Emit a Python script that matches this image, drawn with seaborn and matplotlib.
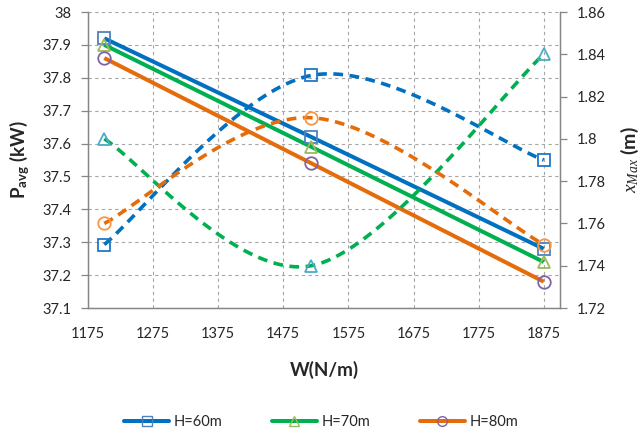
import numpy as np
import pandas as pd
import matplotlib
matplotlib.use("Agg")
import matplotlib.pyplot as plt
from matplotlib.lines import Line2D
import seaborn as sns

# ---------------- data ----------------
W = [1200, 1518, 1875]
heights = ["H=60m", "H=70m", "H=80m"]
p_avg_60 = [37.92, 37.62, 37.28]
p_avg_70 = [37.90, 37.59, 37.24]
p_avg_80 = [37.86, 37.54, 37.18]
xmax_60 = [1.75, 1.83, 1.79]
xmax_70 = [1.80, 1.74, 1.84]
xmax_80 = [1.76, 1.81, 1.75]

x_ticks = [1175, 1275, 1375, 1475, 1575, 1675, 1775, 1875]
left_ticks = [37.1, 37.2, 37.3, 37.4, 37.5, 37.6, 37.7, 37.8, 37.9, 38.0]
left_tick_labels = ["37.1", "37.2", "37.3", "37.4", "37.5", "37.6", "37.7", "37.8", "37.9", "38"]
right_ticks = [1.72, 1.74, 1.76, 1.78, 1.80, 1.82, 1.84, 1.86]
right_tick_labels = ["1.72", "1.74", "1.76", "1.78", "1.8", "1.82", "1.84", "1.86"]

# ---------------- style ----------------
sns.set_style("white")
plt.rcParams["font.family"] = ["Lato", "DejaVu Sans"]
plt.rcParams["mathtext.fontset"] = "custom"
plt.rcParams["mathtext.rm"] = "Lato:bold"
plt.rcParams["mathtext.bf"] = "Lato:bold"
plt.rcParams["mathtext.it"] = "Liberation Serif:italic"

line_cols = ["#0070C0", "#00B050", "#E46C0A"]
p_marker_cols = ["#4F81BD", "#9BBB59", "#8064A2"]
x_marker_cols = ["#1F78C8", "#4BACC6", "#F79646"]
markers = ["s", "^", "o"]
grid_col = "#A6A6A6"
spine_col = "#868686"


def smooth(xs, ys, n=60):
    """Excel-like smoothed line: cubic Bezier with Catmull-Rom control points."""
    xs = np.asarray(xs, float)
    ys = np.asarray(ys, float)
    P = np.column_stack([xs, ys])
    m = len(P)
    out = []
    t = np.linspace(0, 1, n)[:, None]
    for i in range(m - 1):
        p0 = P[i - 1] if i > 0 else P[i]
        p1 = P[i]
        p2 = P[i + 1]
        p3 = P[i + 2] if i + 2 < m else P[i + 1]
        c1 = p1 + (p2 - p0) / 6.0
        c2 = p2 - (p3 - p1) / 6.0
        seg = ((1 - t) ** 3) * p1 + 3 * ((1 - t) ** 2) * t * c1 + 3 * (1 - t) * t ** 2 * c2 + t ** 3 * p2
        out.append(seg if i == 0 else seg[1:])
    seg = np.vstack(out)
    return seg[:, 0], seg[:, 1]


fig = plt.figure(figsize=(6.42, 4.33), dpi=100)
ax = fig.add_axes([88 / 642, 1 - 308 / 433, 472 / 642, 296 / 433])
ax2 = ax.twinx()

p_series = [p_avg_60, p_avg_70, p_avg_80]
x_series = [xmax_60, xmax_70, xmax_80]

# solid lines: P_avg
for i, (lab, vals) in enumerate(zip(heights, p_series)):
    df = pd.DataFrame({"W": W, "P": vals})
    sns.lineplot(data=df, x="W", y="P", ax=ax, color=line_cols[i], lw=2.9,
                 solid_capstyle="butt", legend=False, zorder=3)
    ax.plot(W, vals, ls="none", marker=markers[i], ms=9, mfc="none",
            mec=p_marker_cols[i], mew=1.3, zorder=4)

# dashed smoothed lines: x_Max
for i, (lab, vals) in enumerate(zip(heights, x_series)):
    sx, sy = smooth(W, vals)
    dfs = pd.DataFrame({"W": sx, "X": sy})
    sns.lineplot(data=dfs, x="W", y="X", ax=ax2, color=line_cols[i], lw=2.6,
                 sort=False, estimator=None, legend=False, zorder=3)
    ax2.lines[-1].set_dashes((2.7, 1.8))
    ax2.lines[-1].set_dash_capstyle("butt")
    ax2.plot(W, vals, ls="none", marker=markers[i], ms=9, mfc="none",
             mec=x_marker_cols[i], mew=1.3, zorder=4)

# axes limits / ticks
ax.set_xlim(1175, 1900)
ax.set_ylim(37.1, 38.0)
ax2.set_ylim(1.72, 1.86)
ax.set_xticks(x_ticks)
ax.set_xticklabels([str(v) for v in x_ticks])
ax.set_yticks(left_ticks)
ax.set_yticklabels(left_tick_labels)
ax2.set_yticks(right_ticks)
ax2.set_yticklabels(right_tick_labels)

for a in (ax, ax2):
    a.tick_params(labelsize=10.5, colors="#262626", length=5, width=0.9)
    for s in a.spines.values():
        s.set_color(spine_col)
        s.set_linewidth(0.9)
    a.spines["top"].set_visible(False)
ax.tick_params(axis="x", pad=9, color=spine_col, labelcolor="#262626")
ax.tick_params(axis="y", pad=7, color=spine_col, labelcolor="#262626")
ax2.tick_params(axis="y", pad=7, color=spine_col, labelcolor="#262626")
ax.set_axisbelow(True)
ax.grid(True, color=grid_col, ls=(0, (3, 3)), lw=0.8)

# labels
ax.set_xlabel("W(N/m)", fontsize=13.5, fontweight="bold")
ax.xaxis.set_label_coords(0.5, -0.21)
ax.xaxis.label.set_va("center")
ax.set_ylabel(r"$\mathrm{P}_{\mathrm{avg}}$ (kW)", fontsize=13.5, fontweight="bold")
ax.yaxis.set_label_coords(-0.145, 0.5)
ax.yaxis.label.set_va("center")
ax2.set_ylabel(r"$\mathit{x}_{\mathit{Max}}$ (m)", fontsize=14, fontweight="bold",
               rotation=90)
ax2.yaxis.set_label_coords(1.148, 0.5)
ax2.yaxis.label.set_va("center")

# legend
handles = [Line2D([0], [0], color=line_cols[i], lw=2.9, marker=markers[i], ms=7,
                  mfc="none", mec=p_marker_cols[i], mew=1.0) for i in range(3)]
fig.legend(handles, heights, loc="center", bbox_to_anchor=(0.5, 1 - 422 / 433),
           ncol=3, frameon=False, fontsize=10.5, handlelength=3.1,
           handletextpad=0.3, columnspacing=3.4)

fig.savefig("out.png", dpi=100)
